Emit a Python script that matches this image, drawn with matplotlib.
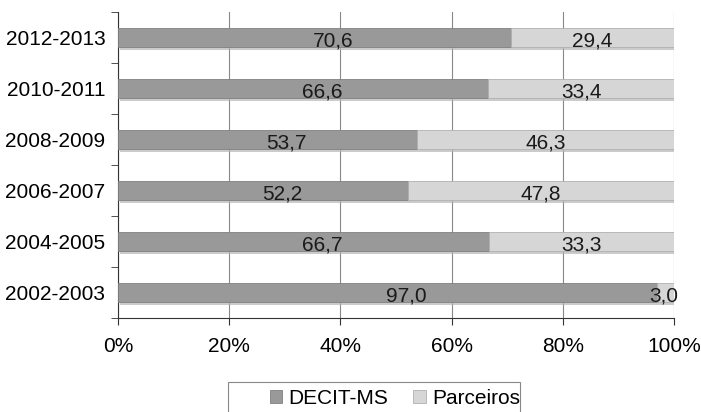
import matplotlib
matplotlib.use("Agg")
import matplotlib.pyplot as plt
import numpy as np
from matplotlib.patches import Rectangle
from matplotlib.transforms import offset_copy

categories = ["2002-2003", "2004-2005", "2006-2007", "2008-2009", "2010-2011", "2012-2013"]
decit = [97.0, 66.7, 52.2, 53.7, 66.6, 70.6]
parceiros = [3.0, 33.3, 47.8, 46.3, 33.4, 29.4]
xticks = [0, 20, 40, 60, 80, 100]

plt.rcParams['font.family'] = ['Liberation Sans', 'DejaVu Sans']
FS = 15

fig = plt.figure(figsize=(7.01, 4.12), dpi=100)
ax = fig.add_axes([118/701, 1-318/412, (674-118)/701, (318-12)/412])

y = np.arange(len(categories))
h = 0.38
dark = "#999999"
light = "#d6d6d6"

# shadows
ax.barh(y - 0.05, [d + p for d, p in zip(decit, parceiros)], height=h, left=0.3,
        color="#b5b5b5", alpha=0.7, zorder=1)
b1 = ax.barh(y, decit, height=h, color=dark, edgecolor="#808080", linewidth=0.6, zorder=3, label="DECIT-MS")
b2 = ax.barh(y, parceiros, left=decit, height=h, color=light, edgecolor="#b0b0b0", linewidth=0.6, zorder=3, label="Parceiros")

shifted = offset_copy(ax.transData, fig=fig, x=19, y=0, units="dots")
for yi, d, p in zip(y, decit, parceiros):
    ax.text(d / 2, yi - 0.07, f"{d:.1f}".replace(".", ","), ha="center", va="center", fontsize=FS,
            color="#1a1a1a", zorder=5, transform=shifted)
    xp = d + p / 2 if p > 5 else 100 + 0.7
    ha = "center" if p > 5 else "right"
    ax.text(xp, yi - 0.07, f"{p:.1f}".replace(".", ","), ha=ha, va="center", fontsize=FS,
            color="#1a1a1a", zorder=5, clip_on=False)

ax.set_xlim(0, 100)
ax.set_ylim(-0.5, len(categories) - 0.5)
ax.set_xticks(xticks)
ax.set_xticklabels([f"{t}%" for t in xticks], fontsize=FS)
ax.set_yticks(y)
ax.set_yticklabels(categories, fontsize=FS)
ax.tick_params(axis="y", length=0, pad=9)
ax.set_yticks(np.arange(-0.5, len(categories), 1), minor=True)
ax.tick_params(axis="y", which="minor", length=5, direction="out", color="#333333")
ax.tick_params(axis="x", length=5, direction="out", color="#333333", pad=9)
ax.grid(axis="x", color="#888888", linewidth=0.8, zorder=0)
ax.set_axisbelow(True)
for s in ["top", "right"]:
    ax.spines[s].set_visible(False)
ax.spines["left"].set_color("#333333")
ax.spines["bottom"].set_color("#333333")

# legend box
fig.patches.append(Rectangle((228/701, -0.02), (520-228)/701, 0.02 + (412-382)/412,
                             transform=fig.transFigure, fill=False, edgecolor="#888888",
                             linewidth=0.8))
leg = fig.legend(handles=[b1, b2], labels=["DECIT-MS", "Parceiros"], loc="center",
                 bbox_to_anchor=(395/701, 1-398/412), ncol=2, fontsize=FS, frameon=False,
                 handlelength=0.6, handleheight=0.6, columnspacing=1.2, handletextpad=0.3)

fig.savefig("out.png", dpi=100)
